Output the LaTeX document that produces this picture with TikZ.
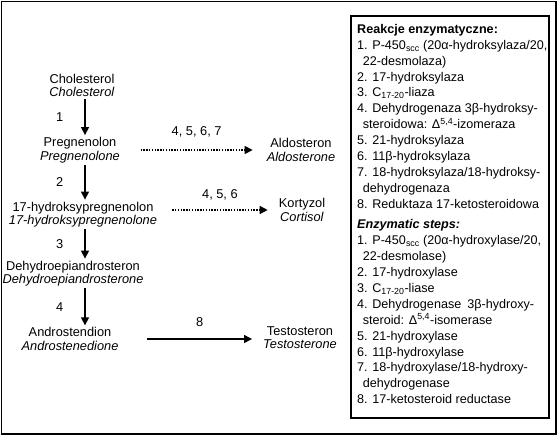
\documentclass[tikz,border=0pt]{standalone}
\usepackage{fontspec}
\setmainfont{Liberation Sans}
\usetikzlibrary{positioning, arrows.meta}

\begin{document}
\begin{tikzpicture}[x=1pt, y=-1pt,
    cpd/.style={align=center, inner sep=2pt, font=\fontsize{12.8}{13.5}\selectfont},
    num/.style={inner sep=0pt, font=\fontsize{12.8}{13.5}\selectfont},
    conv/.style={line width=1.4pt, -{Triangle[length=8pt,width=8pt]}},
    side/.style={conv, dash pattern=on 1.4pt off 1.4pt},
    legend/.style={align=left, inner sep=0pt, font=\fontsize{12.6}{15.9}\selectfont},
  ]
  \useasboundingbox (0,0) rectangle (559,436);
  \draw[line width=1.3pt] (1.5,1.5) rectangle (556,434);
  \draw[line width=1.1pt] (351,16) rectangle (549,418);
  \coordinate (ax) at (85,0);

  \node[cpd] (chol) at (82,85.5) {Cholesterol\\\textit{Cholesterol}};
  \node[cpd] (preg) at (80,150) {Pregnenolon\\\textit{Pregnenolone}};
  \node[cpd] (ohp) at (83,214.5) {17-hydroksypregnenolon\\\textit{17-hydroksypregnenolone}};
  \node[cpd] (dhea) at (73,273.5) {Dehydroepiandrosteron\\\textit{Dehydroepiandrosterone}};
  \node[cpd] (andro) at (70,339) {Androstendion\\\textit{Androstenedione}};
  \node[cpd] (aldo) at (301,150) {Aldosteron\\\textit{Aldosterone}};
  \node[cpd] (kort) at (302,210) {Kortyzol\\\textit{Cortisol}};
  \node[cpd] (testo) at (300,337.5) {Testosteron\\\textit{Testosterone}};

  \draw[conv] (chol.south -| ax) -- node[num, midway, left=21pt] {1} (preg.north -| ax);
  \draw[conv] (preg.south -| ax) -- node[num, midway, left=21pt] {2} (ohp.north -| ax);
  \draw[conv] (ohp.south -| ax) -- node[num, midway, left=21pt] {3} (dhea.north -| ax);
  \draw[conv] (dhea.south -| ax) -- node[num, midway, left=21pt] {4} (andro.north -| ax);

  \draw[side] ([xshift=18.5pt]preg.east) -- node[num, midway, above=12pt] {4, 5, 6, 7} ([xshift=-12pt]aldo.west);
  \draw[side] ([xshift=13pt]ohp.east |- kort.west) -- node[num, midway, above=9pt] {4, 5, 6} ([xshift=-9pt]kort.west);
  \draw[conv] ([xshift=26.7pt]andro.east) -- node[num, midway, above=12pt] {8} ([xshift=-9pt]testo.west |- andro.east);

  \node[legend, anchor=north west] (reakcje) at (357,24) {\textbf{Reakcje enzymatyczne:}\\
    1. P-450\textsubscript{scc} (20α-hydroksylaza/20,\\
    \hspace*{5.7pt}22-desmolaza)\\
    2. 17-hydroksylaza\\
    3. C\textsubscript{17-20}-liaza\\
    4. Dehydrogenaza 3β-hydroksy-\\
    \hspace*{5.7pt}steroidowa: Δ\textsuperscript{5,4}-izomeraza\\
    5. 21-hydroksylaza\\
    6. 11β-hydroksylaza\\
    7. 18-hydroksylaza/18-hydroksy-\\
    \hspace*{5.7pt}dehydrogenaza\\
    8. Reduktaza 17-ketosteroidowa};
  \node[legend, below right=11pt and 0pt of reakcje.south west] (steps) {\itshape\textbf{Enzymatic steps:}\\
    1. P-450\textsubscript{scc} (20α-hydroxylase/20,\\
    \hspace*{5.7pt}22-desmolase)\\
    2. 17-hydroxylase\\
    3. C\textsubscript{17-20}-liase\\
    4. Dehydrogenase\hspace{6pt}3β-hydroxy-\\
    \hspace*{5.7pt}steroid: Δ\textsuperscript{5,4}-isomerase\\
    5. 21-hydroxylase\\
    6. 11β-hydroxylase\\
    7. 18-hydroxylase/18-hydroxy-\\
    \hspace*{5.7pt}dehydrogenase\\
    8. 17-ketosteroid reductase};
\end{tikzpicture}
\end{document}
